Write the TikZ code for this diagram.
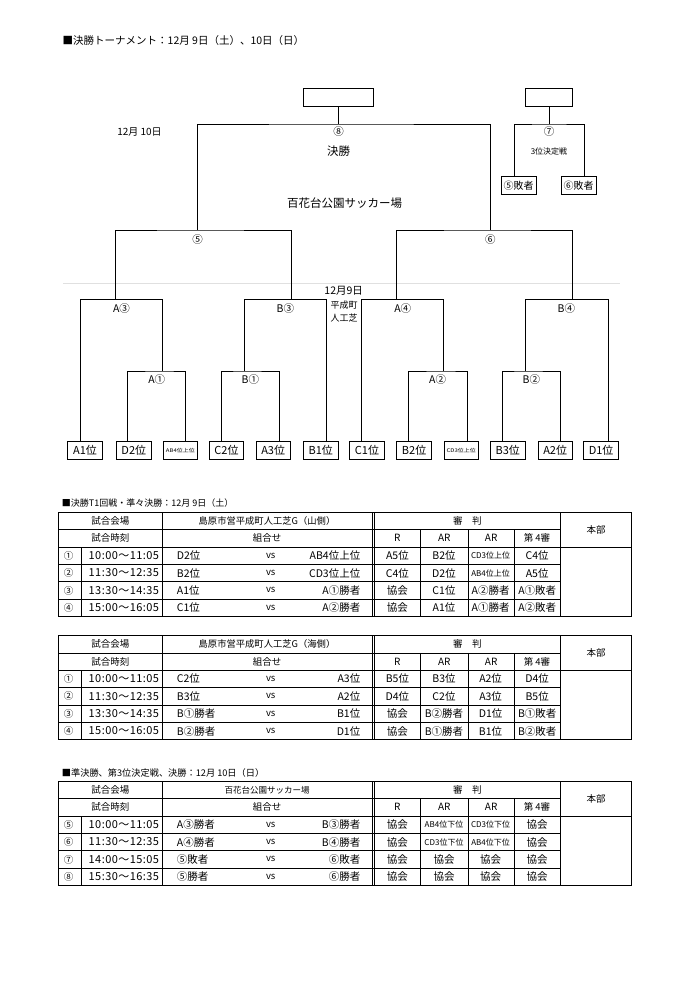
\documentclass[tikz,border=0pt]{standalone}
\usepackage{fontspec}
\usepackage{graphicx}
\setmainfont{Noto Sans CJK JP}
\newfontfamily\timefont[LetterSpace=4]{Noto Sans CJK JP}
\newcommand\jfs[1]{\fontsize{#1}{#1}\selectfont}
\newcommand\smf{\jfs{8}}
\tikzset{
 ln/.style={line width=0.9pt, black},
 tl/.style={line width=0.75pt, black},
 bx/.style={draw, line width=0.9pt, minimum width=34.5pt, minimum height=18pt, inner sep=0pt, font=\jfs{11}},
 lbl/.style={inner sep=0pt, font=\jfs{10.5}},
 cell/.style={inner sep=0pt, font=\jfs{10.5}},
 hd/.style={inner sep=0pt, font=\jfs{9.5}},
}
% table grid: #1 id, #2 top, #3 venue, #4 venue font size
\newcommand\jgrid[4]{%
 \draw[tl] (58.3,#2) rectangle (631.7,#2+104.1);
 \draw[tl] (58.3,#2+17.35) -- (560,#2+17.35);
 \draw[tl] (58.3,#2+34.7) -- (631.7,#2+34.7);
 \foreach \i in {3,4,5} {\draw[tl] (58.3,#2+\i*17.35) -- (560,#2+\i*17.35);}
 \draw[tl] (81,#2+34.7) -- (81,#2+104.1);
 \draw[tl] (162.3,#2) -- (162.3,#2+104.1);
 \draw[tl] (372.0,#2) -- (372.0,#2+104.1);
 \draw[tl] (374.5,#2) -- (374.5,#2+104.1);
 \foreach \xx in {420.3,468.3,514} {\draw[tl] (\xx,#2+17.35) -- (\xx,#2+104.1);}
 \draw[tl] (560,#2) -- (560,#2+104.1);
 \node[hd] (#1h1) at (110.3,#2+8.7) {試合会場};
 \node[hd,font=\jfs{#4}] (#1h2) at (267,#2+8.7) {#3};
 \node[hd] (#1h3) at (467.3,#2+8.7) {審　判};
 \node[hd] (#1h4) at (596,#2+17.35) {本部};
 \node[hd] (#1h5) at (110.3,#2+26) {試合時刻};
 \node[hd] (#1h6) at (267,#2+26) {組合せ};
 \node[hd,font=\jfs{10}] (#1h7) at (397.4,#2+26) {R};
 \node[hd,font=\jfs{10}] (#1h8) at (444.3,#2+26) {AR};
 \node[hd,font=\jfs{10}] (#1h9) at (491.2,#2+26) {AR};
 \node[hd] (#1h10) at (537,#2+26) {第 4審};
}
% table row: #1 id, #2 y, #3 no, #4 time, #5 left, #6 right, #7 referees
\newcommand\jrow[7]{%
 \node[cell,font=\jfs{9.5}] (#1n) at (68.5,#2) {#3};
 \node[cell,anchor=west,font=\timefont\jfs{11}] (#1t) at (88.5,#2) {#4};
 \node[cell,anchor=west] (#1l) at (176.7,#2) {#5};
 \node[cell,font=\jfs{9.5}] (#1v) at (270.7,#2) {vs};
 \node[cell,anchor=east] (#1r) at (360.5,#2) {#6};
 \foreach \v [count=\k] in {#7} {\node[cell] (#1x\k) at ({397.4+46.6*(\k-1)},#2) {\v};}
}
\begin{document}
\begin{tikzpicture}[x=1pt,y=-1pt]
\useasboundingbox (0,0) rectangle (700,990);
\fill[white] (0,0) rectangle (700,990);

% title
\node[anchor=west, inner sep=0pt, font=\jfs{10.5}] (title) at (62.5,41) {■決勝トーナメント：12月 9日（土）、10日（日）};

% top boxes
\node[draw, ln, minimum width=70pt, minimum height=18pt, inner sep=0pt] (champ) at (338.6,97) {};
\node[draw, ln, minimum width=47pt, minimum height=18pt, inner sep=0pt] (third) at (549,97) {};

% final
\coordinate (fin) at (338.6,124);
\coordinate (s5) at (197.5,230);
\coordinate (s6) at (490.4,230);
\draw[ln] (champ.south) -- (fin);
\draw[ln] (s5) |- (fin) -| (s6);
\node[lbl] (n8) at (338.6,132) {⑧};
\node[lbl, font=\jfs{11.5}] (kessho) at (338.6,151) {決勝};
\node[lbl, font=\jfs{10}] (d10) at (139.5,131.5) {12月 10日};
\node[lbl, font=\jfs{11.5}] (venue) at (344.5,203) {百花台公園サッカー場};

% third place
\coordinate (t3) at (549,124);
\node[bx, minimum width=35pt, font=\jfs{10}] (l5) at (518.5,185.5) {⑤敗者};
\node[bx, minimum width=35pt, font=\jfs{10}] (l6) at (578.5,185.5) {⑥敗者};
\coordinate (p5) at (514,176.5);
\coordinate (p6) at (584,176.5);
\draw[ln] (third.south) -- (t3);
\draw[ln] (p5) |- (t3) -| (p6);
\node[lbl] (n7) at (549,132) {⑦};
\node[lbl, font=\jfs{8}] (n7b) at (549,151) {3位決定戦};

% gray separator
\draw[line width=0.6pt, black!12] (63,283.3) -- (620,283.3);

\node[lbl, font=\jfs{10.5}] (d9) at (343.7,290.7) {12月9日};
\node[lbl, font=\jfs{9}] (hs1) at (344,305) {平成町};
\node[lbl, font=\jfs{9}] (hs2) at (344,318.3) {人工芝};

% semi-final labels
\node[lbl] (n5) at (197.5,239.5) {⑤};
\node[lbl] (n6) at (490.4,239.5) {⑥};

% quarter-final junctions
\coordinate (qA3) at (115.4,299.3);
\coordinate (qB3) at (291.4,299.3);
\coordinate (qA4) at (396.8,299.3);
\coordinate (qB4) at (572.5,299.3);
\draw[ln] (qA3) |- (s5) -| (qB3);
\draw[ln] (qA4) |- (s6) -| (qB4);

% first-round junctions
\coordinate (rA1) at (162.5,371);
\coordinate (rB1) at (244.3,371);
\coordinate (rA2) at (443.9,371);
\coordinate (rB2) at (525.4,371);

% bottom boxes
\node[bx] (b1) at (85,450.5) {A1位};
\node[bx] (b2) at (133.8,450.5) {D2位};
\node[bx] (b3) at (180.4,450.5) {\scalebox{1.2}[1]{\jfs{5}AB4位上位}};
\node[bx] (b4) at (226.5,450.5) {C2位};
\node[bx] (b5) at (273.2,450.5) {A3位};
\node[bx] (b6) at (320.8,450.5) {B1位};
\node[bx] (b7) at (367,450.5) {C1位};
\node[bx] (b8) at (414.1,450.5) {B2位};
\node[bx] (b9) at (461.3,450.5) {\scalebox{1.2}[1]{\jfs{5}CD3位上位}};
\node[bx] (b10) at (507.7,450.5) {B3位};
\node[bx] (b11) at (555.2,450.5) {A2位};
\node[bx] (b12) at (601.1,450.5) {D1位};

\coordinate (pa1) at (80.4,441.5);
\coordinate (pd2) at (127.9,441.5);
\coordinate (pab4) at (185.7,441.5);
\coordinate (pc2) at (221.4,441.5);
\coordinate (pa3) at (279.3,441.5);
\coordinate (pb1) at (326.4,441.5);
\coordinate (pc1) at (361.8,441.5);
\coordinate (pb2) at (408.2,441.5);
\coordinate (pcd3) at (467.1,441.5);
\coordinate (pb3) at (502.1,441.5);
\coordinate (pa2) at (560.7,441.5);
\coordinate (pd1) at (608.2,441.5);

\draw[ln] (pa1) |- (qA3) -| (rA1);
\draw[ln] (rB1) |- (qB3) -| (pb1);
\draw[ln] (pc1) |- (qA4) -| (rA2);
\draw[ln] (rB2) |- (qB4) -| (pd1);
\draw[ln] (pd2) |- (rA1) -| (pab4);
\draw[ln] (pc2) |- (rB1) -| (pa3);
\draw[ln] (pb2) |- (rA2) -| (pcd3);
\draw[ln] (pb3) |- (rB2) -| (pa2);

\node[lbl] (la3) at (121.5,308.5) {A③};
\node[lbl] (lb3) at (285.4,308.5) {B③};
\node[lbl] (la4) at (402.8,308.5) {A④};
\node[lbl] (lb4) at (566.4,308.5) {B④};
\node[lbl] (la1) at (156.8,380) {A①};
\node[lbl] (lb1) at (250.4,380) {B①};
\node[lbl] (la2) at (437.6,380) {A②};
\node[lbl] (lb2) at (531.4,380) {B②};

% table 1
\node[anchor=west, inner sep=0pt, font=\jfs{9}] (tt1) at (61.7,503.5) {■決勝T1回戦・準々決勝：12月 9日（土）};
\jgrid{ta}{512.3}{島原市営平成町人工芝G（山側）}{9.3}
\jrow{taa}{555.7}{①}{10:00～11:05}{D2位}{AB4位上位}{A5位,B2位,\smf CD3位上位,C4位}
\jrow{tab}{573.05}{②}{11:30～12:35}{B2位}{CD3位上位}{C4位,D2位,\smf AB4位上位,A5位}
\jrow{tac}{590.4}{③}{13:30～14:35}{A1位}{A①勝者}{協会,C1位,A②勝者,A①敗者}
\jrow{tad}{607.75}{④}{15:00～16:05}{C1位}{A②勝者}{協会,A1位,A①勝者,A②敗者}

% table 2
\jgrid{tb}{635.6}{島原市営平成町人工芝G（海側）}{9.3}
\jrow{tba}{679.0}{①}{10:00～11:05}{C2位}{A3位}{B5位,B3位,A2位,D4位}
\jrow{tbb}{696.35}{②}{11:30～12:35}{B3位}{A2位}{D4位,C2位,A3位,B5位}
\jrow{tbc}{713.7}{③}{13:30～14:35}{B①勝者}{B1位}{協会,B②勝者,D1位,B①敗者}
\jrow{tbd}{731.05}{④}{15:00～16:05}{B②勝者}{D1位}{協会,B①勝者,B1位,B②敗者}

% table 3
\node[anchor=west, inner sep=0pt, font=\jfs{9.2}] (tt3) at (61.7,772.5) {■準決勝、第3位決定戦、決勝：12月 10日（日）};
\jgrid{tc}{781.3}{百花台公園サッカー場}{8.5}
\jrow{tca}{824.7}{⑤}{10:00～11:05}{A③勝者}{B③勝者}{協会,\smf AB4位下位,\smf CD3位下位,協会}
\jrow{tcb}{842.05}{⑥}{11:30～12:35}{A④勝者}{B④勝者}{協会,\smf CD3位下位,\smf AB4位下位,協会}
\jrow{tcc}{859.4}{⑦}{14:00～15:05}{⑤敗者}{⑥敗者}{協会,協会,協会,協会}
\jrow{tcd}{876.75}{⑧}{15:30～16:35}{⑤勝者}{⑥勝者}{協会,協会,協会,協会}
\end{tikzpicture}
\end{document}
